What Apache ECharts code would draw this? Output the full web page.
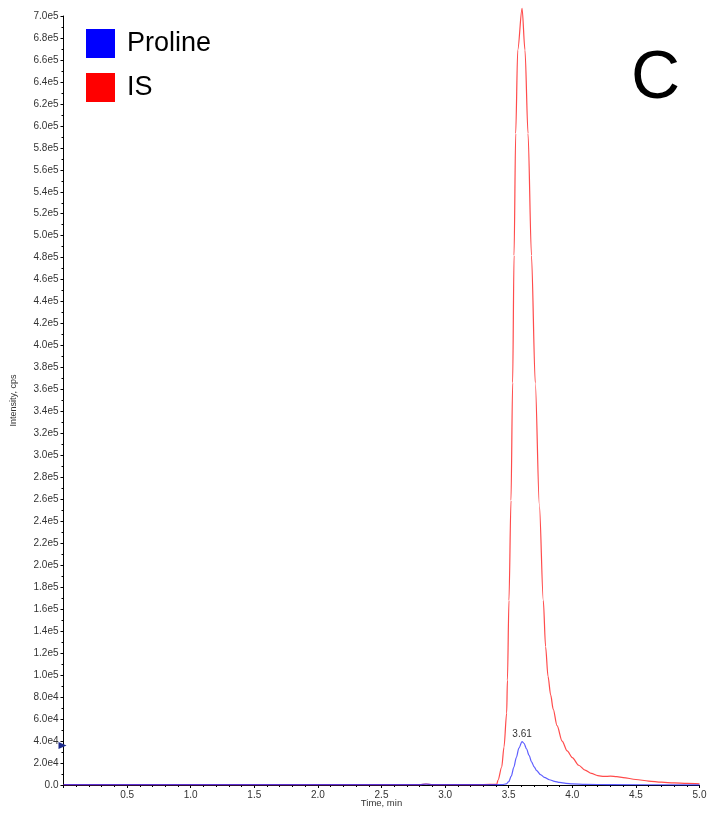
<!DOCTYPE html>
<html>
<head>
<meta charset="utf-8">
<script src="https://cdn.jsdelivr.net/npm/echarts@6/dist/echarts.min.js"></script>
<style>html,body{margin:0;padding:0;background:#fff}#c{width:714px;height:818px}</style>
</head>
<body>
<div id="c"></div>
<script>
// Time (min) and intensity (thousand cps)
const isTime = [0, 1.0, 2.0, 2.8, 2.85, 2.9, 3.0, 3.3, 3.406, 3.416, 3.445, 3.463, 3.484, 3.49, 3.502, 3.518, 3.531, 3.542, 3.555, 3.571, 3.605, 3.628, 3.652, 3.679, 3.709, 3.741, 3.772, 3.79, 3.809, 3.83, 3.85, 3.88, 3.92, 3.96, 4.0, 4.05, 4.1, 4.15, 4.2, 4.25, 4.3, 4.35, 4.4, 4.5, 4.6, 4.7, 4.8, 4.9, 5.0];
const isValues = [0.4, 0.4, 0.4, 0.4, 0.9, 0.4, 0.4, 0.4, 0.6, 4.5, 16.4, 34.6, 65.5, 95.5, 168, 259, 366, 482, 593, 669, 707, 669, 593, 482, 366, 255, 168, 126, 99, 82, 69, 54, 40, 31, 25, 18, 13.5, 10.5, 8.5, 7.8, 8.0, 7.6, 6.8, 5.0, 3.6, 2.6, 1.9, 1.4, 1.0];
const prolineTime = [0, 1.0, 2.0, 2.8, 2.85, 2.9, 3.0, 3.4, 3.45, 3.48, 3.50, 3.52, 3.54, 3.56, 3.58, 3.605, 3.62, 3.64, 3.66, 3.68, 3.70, 3.72, 3.75, 3.78, 3.82, 3.86, 3.90, 3.95, 4.0, 4.1, 4.3, 5.0];
const prolineValues = [0.3, 0.3, 0.3, 0.3, 0.8, 0.3, 0.3, 0.3, 0.3, 1, 3, 8, 16, 25, 33.5, 39.5, 38, 33, 27, 21, 16.5, 13, 9.5, 7, 4.8, 3.3, 2.3, 1.5, 1.0, 0.6, 0.3, 0.1];
const peakLabel = '3.61';
const seriesNames = ['Proline', 'IS'];

const toPairs = (t, v) => t.map((x, i) => [x, v[i] * 1000]);
let pk = 0;
prolineValues.forEach((v, i) => { if (v > prolineValues[pk]) pk = i; });

const chart = echarts.init(document.getElementById('c'), null, { renderer: 'canvas' });
const yFmt = v => {
  if (v === 0) return '0.0';
  if (v >= 1e5) return (v / 1e5).toFixed(1) + 'e5';
  return (v / 1e4).toFixed(1) + 'e4';
};
const FONT = 'Liberation Sans, Arial, sans-serif';
chart.setOption({
  animation: false,
  backgroundColor: '#fff',
  textStyle: { fontFamily: FONT },
  grid: { left: 63.5, right: 14.5, top: 16, bottom: 33, containLabel: false, outerBoundsMode: 'none' },
  legend: {
    orient: 'vertical', left: 81, top: 24, itemWidth: 29, itemHeight: 29, itemGap: 15,
    icon: 'rect',
    textStyle: { fontSize: 27, lineHeight: 29, color: '#000', padding: [0, 0, 0, 7], fontFamily: FONT },
    data: [
      { name: seriesNames[0], itemStyle: { color: '#0000ff' } },
      { name: seriesNames[1], itemStyle: { color: '#ff0000' } }
    ]
  },
  graphic: [{
    type: 'text', right: 34, top: 45,
    style: { text: 'C', fontSize: 68, fill: '#000', fontFamily: FONT }
  }],
  xAxis: {
    type: 'value', min: 0, max: 5, interval: 0.5,
    name: 'Time, min', nameLocation: 'middle', nameGap: 13, nameMoveOverlap: false,
    nameTextStyle: { fontSize: 9.5, color: '#333', verticalAlign: 'top' },
    axisLine: { onZero: false, lineStyle: { color: '#000', width: 1 } },
    axisTick: { length: 3, lineStyle: { color: '#000' } },
    minorTick: { show: true, splitNumber: 5, length: 2, lineStyle: { color: '#000' } },
    splitLine: { show: false },
    axisLabel: { fontSize: 10, color: '#333', margin: 5, formatter: v => v === 0 ? '' : v.toFixed(1) }
  },
  yAxis: {
    type: 'value', min: 0, max: 700000, interval: 20000,
    name: 'Intensity, cps', nameLocation: 'middle', nameGap: 45, nameMoveOverlap: false,
    nameTextStyle: { fontSize: 9, color: '#333' },
    axisLine: { show: true, lineStyle: { color: '#000', width: 1 } },
    axisTick: { show: true, length: 3, lineStyle: { color: '#000' } },
    minorTick: { show: true, splitNumber: 2, length: 2, lineStyle: { color: '#000' } },
    splitLine: { show: false },
    axisLabel: { fontSize: 10, color: '#333', margin: 5, formatter: yFmt }
  },
  series: [
    {
      name: seriesNames[1], type: 'line', data: toPairs(isTime, isValues),
      showSymbol: false, smooth: 0.3, smoothMonotone: 'x', clip: false,
      itemStyle: { color: '#ff0000' },
      lineStyle: { color: 'rgba(255,30,30,0.8)', width: 1.2 }, z: 2
    },
    {
      name: seriesNames[0], type: 'line', data: toPairs(prolineTime, prolineValues),
      showSymbol: false, smooth: 0.3, smoothMonotone: 'x', clip: false,
      itemStyle: { color: '#0000ff' },
      lineStyle: { color: 'rgba(40,40,255,0.75)', width: 1.2 }, z: 3,
      markPoint: {
        silent: true,
        data: [
          { coord: [0, 36000], symbol: 'triangle', symbolSize: [7, 8], symbolRotate: -90, symbolOffset: [-1, 0], itemStyle: { color: '#1c2a8c' }, label: { show: false } },
          { coord: [prolineTime[pk], prolineValues[pk] * 1000], symbol: 'circle', symbolSize: 1, itemStyle: { color: 'rgba(0,0,0,0)' },
            label: { show: true, position: 'top', distance: 2, formatter: peakLabel, fontSize: 10, color: '#333', fontFamily: FONT } }
        ]
      }
    }
  ]
});
</script>
</body>
</html>
